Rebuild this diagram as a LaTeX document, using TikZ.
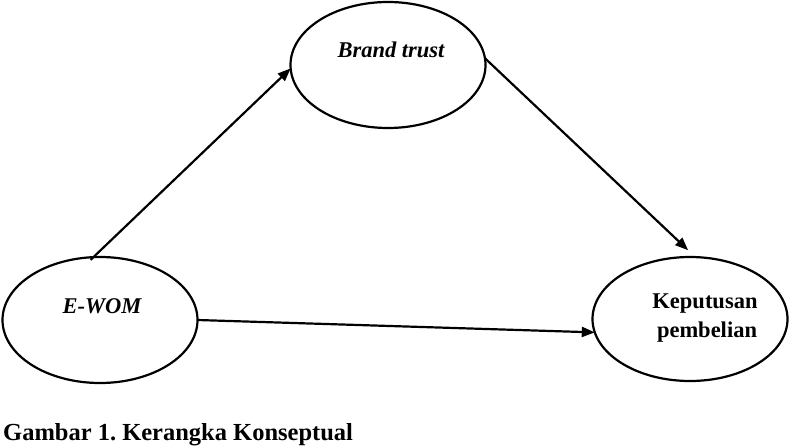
\documentclass[tikz,border=0pt]{standalone}
\usepackage{fontspec}
\setmainfont{Liberation Serif}
\usetikzlibrary{shapes.geometric,arrows.meta}

\tikzset{
  construct/.style={draw=black, line width=2.2pt, ellipse, inner sep=0pt, outer sep=0pt,
                    minimum width=195pt, minimum height=126pt},
  label/.style={font=\fontsize{22.5}{29}\selectfont\bfseries, inner sep=0pt, anchor=base},
  path arrow/.style={line width=2.2pt, -{Triangle[length=13pt,width=10pt]}},
}

\begin{document}
\frenchspacing
\begin{tikzpicture}[x=1pt, y=-1pt]
  \useasboundingbox (0,0) rectangle (792,447);

  % constructs
  \node[construct] (bt) at (388,65) {};
  \node[construct] (ew) at (100,320) {};
  \node[construct, minimum height=124pt] (kp) at (690,319) {};

  % construct names
  \node[label, font=\fontsize{22.5}{29}\selectfont\bfseries\itshape] (btname) at (391,57) {Brand trust};
  \node[label, font=\fontsize{22.5}{29}\selectfont\bfseries\itshape] (ewname) at (102,313) {E-WOM};
  \node[label] (kpname1) at (705,308) {Keputusan};
  \node[label] (kpname2) at (707,337) {pembelian};

  % hypothesised paths
  \draw[path arrow, shorten <=-4pt] (ew.96) -- (bt.182);
  \draw[path arrow, shorten >=10pt] (bt.4) -- (kp.85);
  \draw[path arrow] (ew.0) -- (kp.188);

  % caption
  \node[font=\fontsize{24.5}{30}\selectfont\bfseries, inner sep=0pt, anchor=base west] (caption)
    at (3,440) {Gambar 1. Kerangka Konseptual};
\end{tikzpicture}
\end{document}
